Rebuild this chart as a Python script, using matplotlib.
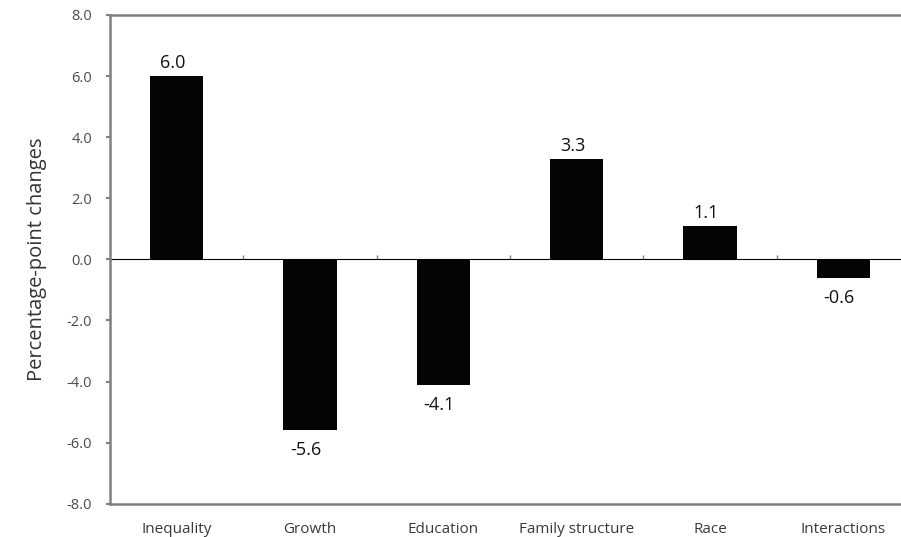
import matplotlib
matplotlib.use("Agg")
import matplotlib.pyplot as plt

categories = ["Inequality", "Growth", "Education", "Family structure", "Race", "Interactions"]
values = [6.0, -5.6, -4.1, 3.3, 1.1, -0.6]
labels = ["6.0", "-5.6", "-4.1", "3.3", "1.1", "-0.6"]
yticks = [-8.0, -6.0, -4.0, -2.0, 0.0, 2.0, 4.0, 6.0, 8.0]

plt.rcParams['font.family'] = ['Open Sans', 'DejaVu Sans']

fig = plt.figure(figsize=(9.01, 5.37), dpi=100)
ax = fig.add_axes([110/901, 33.3/537, 800/901, 488.7/537])

x = list(range(len(categories)))
ax.bar(x, values, width=0.4, color="#050505", zorder=3)

ax.set_xlim(-0.5, len(categories) - 0.5)
ax.set_ylim(-8, 8)
ax.set_yticks(yticks)
ax.set_yticklabels([f"{v:.1f}" for v in yticks])
ax.set_xticks(x)
ax.set_xticklabels(categories)

ax.tick_params(axis='x', length=0, pad=13, labelsize=11, labelcolor="#3a3a3a")
ax.tick_params(axis='y', length=3, width=1.5, color="#808080", pad=10,
               labelsize=10.5, labelcolor="#4a4a4a", direction='out')

for side in ['left', 'top', 'bottom']:
    ax.spines[side].set_color("#808080")
    ax.spines[side].set_linewidth(1.8)
ax.spines['right'].set_visible(False)

# zero line with boundary ticks
sec = ax.secondary_xaxis(0.5)
sec.set_xticks([i + 0.5 for i in range(len(categories) - 1)])
sec.set_xticklabels([])
sec.tick_params(axis='x', length=3, width=1, color="#808080", direction='out')
sec.spines['bottom'].set_color("#555555")
sec.spines['bottom'].set_linewidth(1.2)
sec.spines['bottom'].set_zorder(4)

ax.set_ylabel("Percentage-point changes", fontsize=14.5, color="#333333", labelpad=14)

for xi, v, lab in zip(x, values, labels):
    if v >= 0:
        ax.annotate(lab, (xi, v), xytext=(-4, 4), textcoords='offset pixels',
                    ha='center', va='bottom', fontsize=13, color="#111111")
    else:
        ax.annotate(lab, (xi, v), xytext=(-4, -11), textcoords='offset pixels',
                    ha='center', va='top', fontsize=13, color="#111111")

fig.savefig("out.png", dpi=100)
